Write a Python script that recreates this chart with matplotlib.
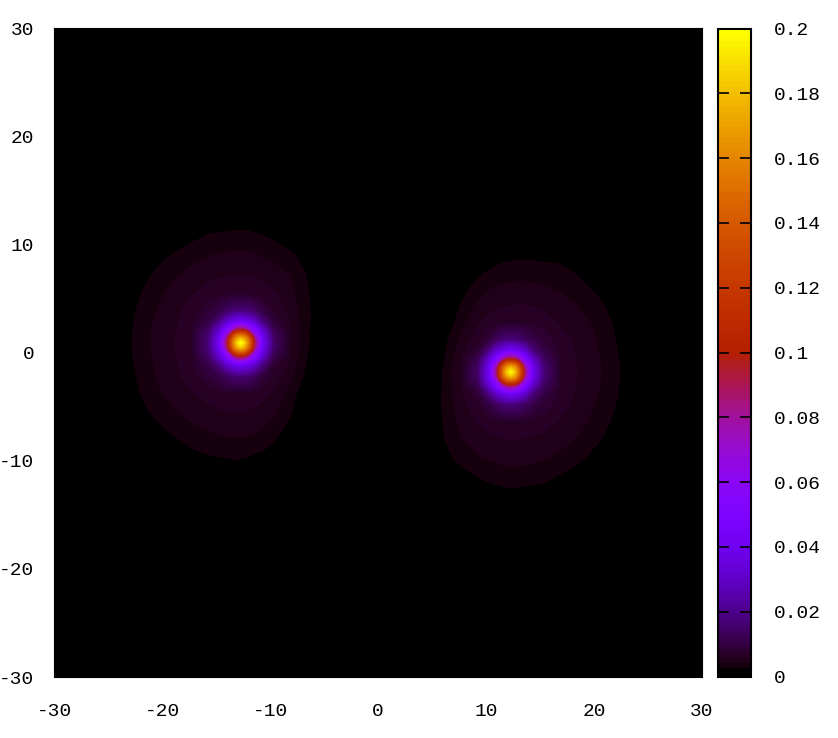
import matplotlib
matplotlib.use("Agg")
import matplotlib.pyplot as plt
import numpy as np
from matplotlib.colors import ListedColormap, BoundaryNorm
from matplotlib.cm import ScalarMappable

# Field samples are in units of 0.001
x_ticks = [-30, -20, -10, 0, 10, 20, 30]
y_ticks = [-30, -20, -10, 0, 10, 20, 30]
cb_ticks = [0, 0.02, 0.04, 0.06, 0.08, 0.1, 0.12, 0.14, 0.16, 0.18, 0.2]
cb_labels = ["0", "0.02", "0.04", "0.06", "0.08", "0.1", "0.12", "0.14", "0.16", "0.18", "0.2"]

y_grid = [11.5, 10, 8, 6, 4.5, 3, 2, 1.3, 0.7, 0.35, 0, -0.35, -0.7, -1.3, -2, -3, -4.5, -6, -8, -10, -11.5]

left_x = [-23.7, -22.2, -20.7, -18.7, -17.2, -15.7, -14.7, -14.0, -13.4, -13.05, -12.7,
          -12.35, -12.0, -11.4, -10.7, -9.7, -8.2, -6.7, -5.2]
left_y = [v + 0.87 for v in y_grid]
left_z = [
    [0, 0, 0, .4, 1.1, 1.6, 1.8, 1.9, 2.0, 2.0, 2.0, 2.0, 2.0, 1.8, 1.4, 1.1, .3, 0, 0],
    [0, 0, .6, 1.8, 2.5, 3.2, 3.3, 3.4, 3.5, 3.5, 3.5, 3.5, 3.5, 3.3, 3.1, 2.7, 1.8, .7, 0],
    [0, 1.0, 2.3, 3.5, 4.2, 4.7, 4.9, 5.0, 5.1, 5.1, 5.1, 5.1, 5.1, 4.9, 4.6, 4.3, 3.6, 2.4, .2],
    [.7, 2.3, 3.5, 4.7, 5.4, 6.0, 6.2, 6.3, 6.4, 6.4, 6.4, 6.4, 6.4, 6.2, 6.0, 5.6, 4.8, 3.3, 1.0],
    [1.4, 2.9, 4.1, 5.4, 6.2, 6.9, 7.2, 7.5, 7.6, 7.6, 7.7, 7.6, 7.5, 7.3, 7.0, 6.5, 5.2, 3.6, 1.2],
    [1.8, 3.3, 4.5, 5.9, 6.9, 8.8, 11, 14, 16.5, 17.2, 17.5, 17.2, 16.5, 14, 10.5, 7.4, 5.8, 3.8, 1.4],
    [2.0, 3.6, 4.8, 6.1, 7.1, 10.5, 18.5, 30, 37, 40, 41, 40, 37, 30, 18.5, 9, 6.0, 3.8, 1.3],
    [2.0, 3.6, 4.9, 6.2, 7.4, 14, 30, 50, 70, 84, 88, 84, 70, 50, 30, 12, 6.3, 3.7, 1.2],
    [2.2, 3.7, 4.9, 6.3, 7.5, 16.5, 37, 70, 124, 148, 155, 148, 124, 70, 37, 14.5, 6.4, 3.6, 1.1],
    [2.2, 3.7, 4.9, 6.3, 7.6, 17, 40, 84, 148, 172, 186, 172, 148, 84, 40, 15, 6.4, 3.7, 1.1],
    [2.2, 3.7, 4.9, 6.3, 7.6, 17.5, 41, 88, 155, 186, 200, 186, 155, 88, 41, 15.5, 6.4, 3.7, 1.1],
    [2.2, 3.7, 4.9, 6.3, 7.6, 17, 40, 84, 148, 172, 186, 172, 148, 84, 40, 15, 6.3, 3.6, 1.0],
    [2.2, 3.7, 4.9, 6.3, 7.5, 16.5, 37, 70, 124, 148, 155, 148, 124, 70, 37, 14, 6.3, 3.5, .9],
    [2.0, 3.6, 4.9, 6.2, 7.4, 14, 30, 50, 70, 84, 88, 84, 70, 50, 30, 11.5, 6.1, 3.3, .8],
    [2.0, 3.5, 4.7, 6.1, 7.3, 11, 18.5, 30, 37, 40, 41, 40, 37, 30, 18.5, 8.5, 5.8, 3.1, .5],
    [1.8, 3.3, 4.6, 6.0, 6.9, 9, 11.5, 14, 16.5, 17.2, 17.5, 17.2, 16.5, 13.5, 9.5, 7.1, 5.3, 2.8, .2],
    [1.4, 3.0, 4.3, 5.5, 6.2, 6.9, 7.3, 7.6, 7.7, 7.7, 7.7, 7.7, 7.6, 7.3, 6.8, 6.1, 4.2, 1.9, 0],
    [.8, 2.4, 3.7, 4.8, 5.5, 6.0, 6.3, 6.5, 6.5, 6.5, 6.5, 6.4, 6.3, 6.2, 5.9, 5.2, 3.6, 1.2, 0],
    [0, 1.2, 2.5, 3.7, 4.3, 4.8, 5.0, 5.2, 5.2, 5.2, 5.2, 5.2, 5.1, 5.0, 4.6, 4.0, 2.5, .2, 0],
    [0, 0, .9, 2.0, 2.9, 3.4, 3.6, 3.7, 3.8, 3.8, 3.7, 3.7, 3.6, 3.3, 3.1, 2.5, .8, 0, 0],
    [0, 0, 0, .7, 1.4, 1.9, 2.2, 2.3, 2.4, 2.4, 2.3, 2.3, 2.2, 1.9, 1.4, 1.0, 0, 0, 0],
]

right_x = [4.8, 6.3, 7.8, 9.3, 10.3, 11.0, 11.6, 11.95, 12.3, 12.65, 13.0, 13.6, 14.3, 15.3,
           16.8, 18.3, 20.3, 21.8, 23.3]
right_y = [v - 1.8 for v in y_grid]
right_z = [
    [0, 0, 0, .6, 1.0, 1.4, 1.7, 1.8, 1.8, 1.8, 1.9, 1.9, 1.9, 1.8, 1.5, 1.1, .3, 0, 0],
    [0, 0, .6, 2.0, 2.7, 3.0, 3.2, 3.3, 3.3, 3.4, 3.4, 3.4, 3.4, 3.3, 3.1, 2.6, 1.6, .4, 0],
    [0, .2, 2.3, 3.7, 4.3, 4.7, 4.8, 4.9, 4.9, 4.9, 5.0, 5.0, 4.9, 4.7, 4.3, 3.7, 2.6, 1.2, 0],
    [0, 1.2, 3.5, 5.1, 5.8, 6.1, 6.2, 6.3, 6.3, 6.3, 6.4, 6.4, 6.3, 6.0, 5.5, 4.8, 3.7, 2.5, .9],
    [0, 1.9, 4.2, 6.1, 6.8, 7.3, 7.6, 7.7, 7.7, 7.7, 7.7, 7.6, 7.3, 6.9, 6.2, 5.5, 4.3, 3.0, 1.4],
    [.2, 2.8, 5.3, 7.1, 9.5, 13.5, 16.5, 17.2, 17.5, 17.2, 16.5, 14, 11.5, 9, 6.9, 6.0, 4.6, 3.3, 1.8],
    [.5, 3.1, 5.8, 8.5, 18.5, 30, 37, 40, 41, 40, 37, 30, 18.5, 11, 7.3, 6.1, 4.7, 3.5, 2.0],
    [.8, 3.3, 6.1, 11.5, 30, 50, 70, 82, 86, 82, 70, 50, 30, 14, 7.4, 6.2, 4.9, 3.6, 2.0],
    [.9, 3.5, 6.3, 14, 37, 70, 122, 146, 152, 146, 122, 70, 37, 16.5, 7.5, 6.3, 4.9, 3.7, 2.2],
    [1.0, 3.6, 6.3, 15, 40, 82, 146, 170, 183, 170, 146, 82, 40, 17, 7.6, 6.3, 4.9, 3.7, 2.2],
    [1.1, 3.7, 6.4, 15.5, 41, 86, 152, 183, 197, 183, 152, 86, 41, 17.5, 7.6, 6.3, 4.9, 3.7, 2.2],
    [1.1, 3.7, 6.4, 15, 40, 82, 146, 170, 183, 170, 146, 82, 40, 17, 7.6, 6.3, 4.9, 3.7, 2.2],
    [1.1, 3.6, 6.4, 14.5, 37, 70, 122, 146, 152, 146, 122, 70, 37, 16.5, 7.5, 6.3, 4.9, 3.7, 2.2],
    [1.2, 3.7, 6.3, 12, 30, 50, 70, 82, 86, 82, 70, 50, 30, 14, 7.4, 6.2, 4.9, 3.6, 2.0],
    [1.3, 3.8, 6.0, 9, 18.5, 30, 37, 40, 41, 40, 37, 30, 18.5, 10.5, 7.1, 6.1, 4.8, 3.6, 2.0],
    [1.4, 3.8, 5.8, 7.4, 10.5, 14, 16.5, 17.2, 17.5, 17.2, 16.5, 14, 11, 8.8, 6.9, 5.9, 4.5, 3.3, 1.8],
    [1.2, 3.6, 5.2, 6.5, 7.0, 7.3, 7.5, 7.6, 7.7, 7.7, 7.6, 7.5, 7.2, 6.9, 6.2, 5.4, 4.1, 2.9, 1.4],
    [1.0, 3.3, 4.8, 5.6, 6.0, 6.2, 6.4, 6.4, 6.4, 6.4, 6.4, 6.3, 6.2, 6.0, 5.4, 4.7, 3.5, 2.3, .7],
    [.4, 2.6, 3.8, 4.5, 4.8, 5.0, 5.2, 5.2, 5.2, 5.2, 5.2, 5.1, 5.0, 4.8, 4.3, 3.6, 2.4, 1.0, 0],
    [0, .9, 2.0, 2.9, 3.3, 3.5, 3.7, 3.8, 3.8, 3.8, 3.8, 3.6, 3.5, 3.4, 2.7, 2.0, .8, 0, 0],
    [0, 0, .5, 1.3, 1.7, 2.0, 2.2, 2.3, 2.3, 2.3, 2.3, 2.2, 2.0, 1.8, 1.3, .6, 0, 0, 0],
]

W, H = 838, 738
plt.rcParams["font.family"] = ["Liberation Mono", "DejaVu Sans"]
plt.rcParams["axes.unicode_minus"] = False
FS = 14

fig = plt.figure(figsize=(W / 100, H / 100), dpi=100, facecolor="white")


def axes_px(x0, y0, x1, y1):
    return fig.add_axes([x0 / W, 1 - y1 / H, (x1 - x0) / W, (y1 - y0) / H])


ax = axes_px(54, 28, 702, 677)
ax.set_facecolor("black")

# palette: 128 levels of gnuplot's default map, lowest two black
n_levels = 128
base = matplotlib.colormaps["gnuplot"]
colors = [(0, 0, 0, 1)] * 2 + [base((i + 1) / (n_levels - 2)) for i in range(n_levels - 2)]
cmap = ListedColormap(colors)
edges = np.linspace(0, 0.2, n_levels + 1)
edges[-1] = 0.2001
norm = BoundaryNorm(edges, n_levels)

for xs, ys, zs in [(left_x, left_y, left_z), (right_x, right_y, right_z)]:
    ax.contourf(xs, ys, np.array(zs) * 1e-3, levels=edges, cmap=cmap, norm=norm,
                antialiased=False)

ax.set_xlim(-30, 30)
ax.set_ylim(-30, 30)
ax.set_xticks(x_ticks)
ax.set_yticks(y_ticks)
ax.tick_params(axis="x", length=0, pad=19, labelsize=FS)
ax.tick_params(axis="y", length=0, pad=14, labelsize=FS)
for s in ax.spines.values():
    s.set_color("black")

cax = axes_px(717.5, 28.5, 750.5, 676.5)
cb = fig.colorbar(ScalarMappable(norm=norm, cmap=cmap), cax=cax, spacing="proportional",
                  ticks=cb_ticks, drawedges=False)
cb.solids.set_antialiased(False)
cb.solids.set_edgecolor("face")
cb.ax.set_yticklabels(cb_labels)
cb.ax.minorticks_off()
cb.ax.set_ylim(0, 0.2)
cb.outline.set_linewidth(1.5)
cb.outline.set_edgecolor("black")
cb.ax.tick_params(axis="y", which="major", left=True, right=True, direction="in",
                  length=8, width=1.2, color="black", pad=17, labelsize=FS)
cb.ax.yaxis.set_ticks_position("both")
cb.ax.tick_params(labelleft=False, labelright=True)

fig.savefig("out.png", dpi=100, facecolor="white")
